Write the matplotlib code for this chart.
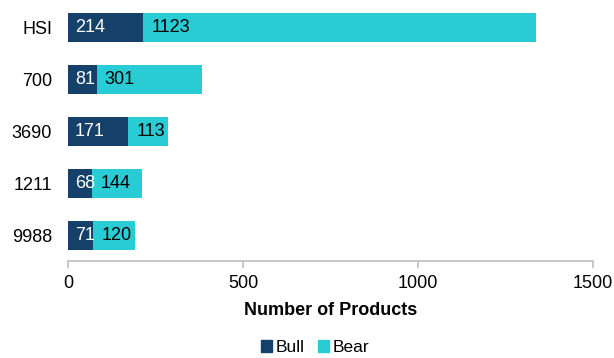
import matplotlib.pyplot as plt
from matplotlib.patches import Patch

plt.rcParams['font.family'] = ['Liberation Sans', 'DejaVu Sans']

# data, top to bottom as shown
tickers = ['HSI', '700', '3690', '1211', '9988']
bull = [214, 81, 171, 68, 71]
bear = [1123, 301, 113, 144, 120]

bull_color = '#15406a'
bear_color = '#29cbd4'

fig = plt.figure(figsize=(6.14, 3.58), dpi=100)
ax = fig.add_axes([0.111, 0.2696, 0.855, 0.726])

y = list(range(len(tickers)))
ax.barh(y, bull, height=0.56, color=bull_color)
ax.barh(y, bear, left=bull, height=0.56, color=bear_color)

# value labels, left-aligned inside each segment
for yi, b, s in zip(y, bull, bear):
    ax.annotate(str(b), xy=(0, yi), xytext=(5, 0), textcoords='offset points',
                ha='left', va='center', color='white', fontsize=13)
    ax.annotate(str(s), xy=(b, yi), xytext=(6, 0), textcoords='offset points',
                ha='left', va='center', color='black', fontsize=13)

ax.set_yticks(y)
ax.set_yticklabels(tickers)
ax.set_ylim(len(tickers) - 0.5, -0.5)
ax.set_xlim(0, 1500)
ax.set_xticks([0, 500, 1000, 1500])

for side in ['top', 'right', 'left']:
    ax.spines[side].set_visible(False)
ax.spines['bottom'].set_color('#bfbfbf')
ax.spines['bottom'].set_linewidth(1.2)
ax.tick_params(axis='x', colors='#bfbfbf', length=5, width=1.2, labelsize=13,
               labelcolor='black', pad=5)
ax.tick_params(axis='y', length=0, labelsize=13, pad=11.5)

ax.set_xlabel('Number of Products', fontsize=13, fontweight='bold', labelpad=7)

handles = [Patch(color=bull_color, label='Bull'), Patch(color=bear_color, label='Bear')]
fig.legend(handles=handles, loc='lower center', bbox_to_anchor=(0.513, -0.035), ncol=2,
           frameon=False, fontsize=12.5, handlelength=0.65, handleheight=0.65,
           handletextpad=0.2, columnspacing=0.75)

fig.savefig('out.png', dpi=100)
